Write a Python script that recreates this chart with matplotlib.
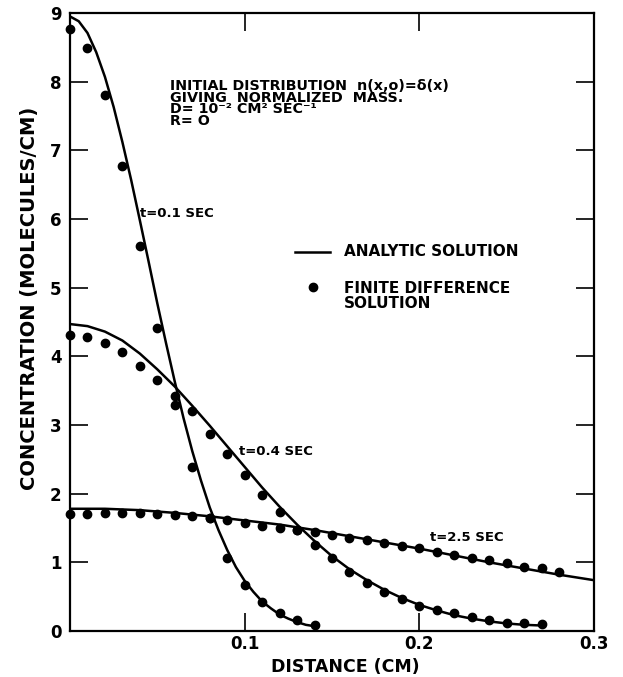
import matplotlib
matplotlib.use("Agg")
import matplotlib.pyplot as plt

# ---------------- data ----------------
# analytic solution curves
x_a01 = [0.000, 0.005, 0.010, 0.015, 0.020, 0.025, 0.030, 0.035, 0.040, 0.045,
         0.050, 0.055, 0.060, 0.065, 0.070, 0.075, 0.080, 0.085, 0.090, 0.095,
         0.100, 0.105, 0.110, 0.115, 0.120, 0.125, 0.130, 0.135, 0.140]
y_a01 = [8.95, 8.88, 8.71, 8.43, 8.07, 7.63, 7.12, 6.57, 5.98, 5.38,
         4.77, 4.19, 3.63, 3.10, 2.62, 2.19, 1.80, 1.47, 1.18, 0.93,
         0.73, 0.57, 0.43, 0.33, 0.24, 0.18, 0.13, 0.09, 0.07]

x_a04 = [0.00, 0.01, 0.02, 0.03, 0.04, 0.05, 0.06, 0.07, 0.08, 0.09,
         0.10, 0.11, 0.12, 0.13, 0.14, 0.15, 0.16, 0.17, 0.18, 0.19,
         0.20, 0.21, 0.22, 0.23, 0.24, 0.25, 0.26, 0.27]
y_a04 = [4.47, 4.44, 4.36, 4.23, 4.04, 3.81, 3.56, 3.28, 2.99, 2.69,
         2.39, 2.09, 1.81, 1.55, 1.31, 1.09, 0.90, 0.74, 0.60, 0.48,
         0.38, 0.30, 0.23, 0.18, 0.14, 0.11, 0.09, 0.08]

x_a25 = [0.00, 0.02, 0.04, 0.06, 0.08, 0.10, 0.12, 0.14, 0.16, 0.18,
         0.20, 0.22, 0.24, 0.26, 0.28, 0.30]
y_a25 = [1.78, 1.78, 1.76, 1.72, 1.67, 1.61, 1.55, 1.47, 1.38, 1.29,
         1.20, 1.10, 1.00, 0.91, 0.82, 0.74]

# finite difference solution points
x_f01 = [0.00, 0.01, 0.02, 0.03, 0.04, 0.05, 0.06, 0.07, 0.08, 0.09,
         0.10, 0.11, 0.12, 0.13, 0.14]
y_f01 = [8.76, 8.49, 7.80, 6.77, 5.60, 4.41, 3.29, 2.39, 1.64, 1.06,
         0.67, 0.42, 0.26, 0.16, 0.09]

x_f04 = [0.00, 0.01, 0.02, 0.03, 0.04, 0.05, 0.06, 0.07, 0.08, 0.09,
         0.10, 0.11, 0.12, 0.13, 0.14, 0.15, 0.16, 0.17, 0.18, 0.19,
         0.20, 0.21, 0.22, 0.23, 0.24, 0.25, 0.26, 0.27]
y_f04 = [4.31, 4.28, 4.19, 4.06, 3.86, 3.65, 3.42, 3.20, 2.87, 2.58,
         2.27, 1.98, 1.73, 1.47, 1.25, 1.06, 0.86, 0.70, 0.57, 0.47,
         0.36, 0.31, 0.26, 0.20, 0.16, 0.12, 0.12, 0.10]

x_f25 = [0.00, 0.01, 0.02, 0.03, 0.04, 0.05, 0.06, 0.07, 0.08, 0.09,
         0.10, 0.11, 0.12, 0.13, 0.14, 0.15, 0.16, 0.17, 0.18, 0.19,
         0.20, 0.21, 0.22, 0.23, 0.24, 0.25, 0.26, 0.27, 0.28]
y_f25 = [1.70, 1.70, 1.72, 1.72, 1.72, 1.70, 1.69, 1.67, 1.64, 1.62,
         1.57, 1.53, 1.50, 1.47, 1.44, 1.40, 1.35, 1.32, 1.28, 1.24,
         1.21, 1.15, 1.11, 1.06, 1.03, 0.99, 0.93, 0.92, 0.86]

y_ticks = [0, 1, 2, 3, 4, 5, 6, 7, 8, 9]
y_ticklabels = ["0", "1", "2", "3", "4", "5", "6", "7", "8", "9"]
x_ticks = [0.1, 0.2, 0.3]
x_ticklabels = ["0.1", "0.2", "0.3"]

curve_labels = ["t=0.1 SEC", "t=0.4 SEC", "t=2.5 SEC"]
info_lines = ["INITIAL DISTRIBUTION  n(x,o)=\u03b4(x)",
              "GIVING  NORMALIZED  MASS.",
              "D= 10\u207b\u00b2 CM\u00b2 SEC\u207b\u00b9",
              "R= O"]
legend_labels = ["ANALYTIC SOLUTION", "FINITE DIFFERENCE\nSOLUTION"]
xlabel = "DISTANCE (CM)"
ylabel = "CONCENTRATION (MOLECULES/CM)"

# ---------------- figure ----------------
plt.rcParams['font.family'] = ['DejaVu Sans']
W, H = 623, 677
fig = plt.figure(figsize=(W / 100, H / 100), dpi=100)
ax = fig.add_axes([70 / W, 46 / H, (594 - 70) / W, (631 - 13) / H])

lc = "black"
lw = 1.8
ax.plot(x_a01, y_a01, color=lc, lw=lw, solid_capstyle="butt")
ax.plot(x_a04, y_a04, color=lc, lw=lw, solid_capstyle="butt")
ax.plot(x_a25, y_a25, color=lc, lw=lw, solid_capstyle="butt")

ms = 6
for xs, ys in [(x_f01, y_f01), (x_f04, y_f04), (x_f25, y_f25)]:
    ax.plot(xs, ys, linestyle="none", marker="o", ms=ms, color=lc,
            clip_on=False, zorder=3)

ax.set_xlim(0, 0.3)
ax.set_ylim(0, 9)

for s in ax.spines.values():
    s.set_linewidth(1.6)

ax.set_yticks(y_ticks)
ax.set_yticklabels(y_ticklabels)
ax.set_xticks(x_ticks)
ax.set_xticklabels(x_ticklabels)
ax.tick_params(axis="both", direction="in", length=13, width=1.2,
               labelsize=12, top=True, right=True)
ax.tick_params(axis="y", pad=6)
ax.tick_params(axis="x", pad=3)
for lab in ax.get_xticklabels() + ax.get_yticklabels():
    lab.set_fontweight("bold")

# curve labels
tfs = 9.5
ax.text(0.040, 6.08, curve_labels[0], fontsize=tfs, fontweight="bold",
        va="center", ha="left")
ax.text(0.097, 2.61, curve_labels[1], fontsize=tfs, fontweight="bold",
        va="center", ha="left")
ax.text(0.206, 1.36, curve_labels[2], fontsize=tfs, fontweight="bold",
        va="center", ha="left")

# info block (one text, tight line spacing as in the reference)
ax.text(0.057, 8.04, "\n".join(info_lines), fontsize=10.3, fontweight="bold",
        va="top", ha="left", linespacing=0.78)

# legend (drawn manually)
ax.plot([0.129, 0.149], [5.52, 5.52], color=lc, lw=lw)
ax.plot([0.139], [5.01], marker="o", ms=ms, color=lc, linestyle="none")
lfs = 11
ax.text(0.157, 5.52, legend_labels[0], fontsize=lfs, fontweight="bold",
        va="center", ha="left")
ax.text(0.157, 4.88, legend_labels[1], fontsize=lfs, fontweight="bold",
        va="center", ha="left", linespacing=1.0)

# axis labels
fig.text(345 / W, 1 - 667 / H, xlabel, fontsize=12.5, fontweight="bold",
         ha="center", va="center")
fig.text(30 / W, 1 - 298 / H, ylabel, fontsize=14, fontweight="bold",
         ha="center", va="center", rotation=90)

fig.savefig("out.png", dpi=100)
